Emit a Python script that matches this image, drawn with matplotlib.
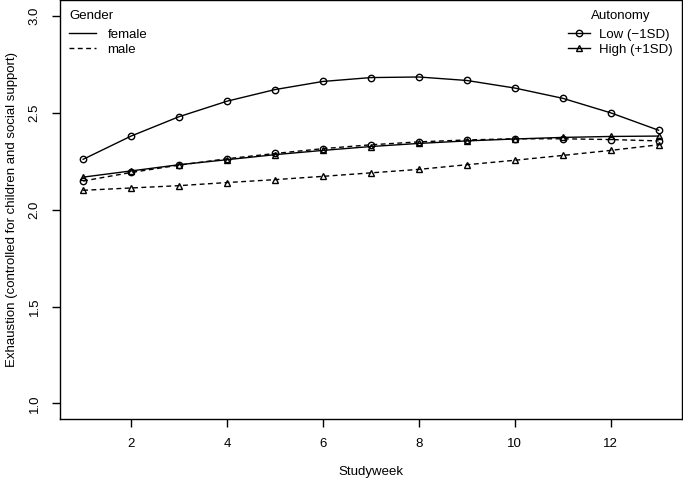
import numpy as np
import matplotlib
matplotlib.use('Agg')
from matplotlib import pyplot as plt
from matplotlib.lines import Line2D

plt.rcParams['font.family'] = ['Liberation Sans', 'DejaVu Sans']

# data
weeks = list(range(1, 14))
female_low = [2.26, 2.38, 2.48, 2.56, 2.62, 2.662, 2.682, 2.685, 2.667, 2.628, 2.575, 2.50, 2.41]
female_high = [2.168, 2.20, 2.232, 2.258, 2.284, 2.306, 2.326, 2.342, 2.355, 2.365, 2.373, 2.378, 2.38]
male_low = [2.148, 2.192, 2.23, 2.263, 2.29, 2.315, 2.335, 2.35, 2.36, 2.366, 2.366, 2.362, 2.355]
male_high = [2.10, 2.112, 2.124, 2.14, 2.155, 2.172, 2.19, 2.208, 2.232, 2.255, 2.28, 2.306, 2.335]

xticks = [2, 4, 6, 8, 10, 12]
yticks = [1.0, 1.5, 2.0, 2.5, 3.0]

fs = 9.5

fig = plt.figure(figsize=(6.83, 4.82), dpi=100)
ax = fig.add_axes([0.088, 0.131, 0.910, 0.868])

dash = (0, (3.5, 2.5))
mk = dict(markersize=5, markerfacecolor='none', markeredgecolor='black', markeredgewidth=1.0)
mk_o = dict(mk, markersize=4.6)

ax.plot(weeks, female_low, color='black', lw=1.0, ls='-', marker='o', **mk_o)
ax.plot(weeks, female_high, color='black', lw=1.0, ls='-', marker='^', **mk)
ax.plot(weeks, male_low, color='black', lw=1.0, ls=dash, marker='o', **mk_o)
ax.plot(weeks, male_high, color='black', lw=1.0, ls=dash, marker='^', **mk)

ax.set_xlim(0.52, 13.48)
ax.set_ylim(0.92, 3.08)
ax.set_xticks(xticks)
ax.set_xticklabels([str(t) for t in xticks])
ax.set_yticks(yticks)
ax.set_yticklabels(['%.1f' % t for t in yticks], rotation=90, va='center')
ax.tick_params(direction='out', length=6, width=1.0, labelsize=fs, pad=8)
for s in ax.spines.values():
    s.set_linewidth(1.0)

ax.set_xlabel('Studyweek', fontsize=fs, labelpad=11)
ax.set_ylabel('Exhaustion (controlled for children and social support)', fontsize=fs, labelpad=8)

# gender legend
g_handles = [Line2D([], [], color='black', lw=1.0, ls='-'),
             Line2D([], [], color='black', lw=1.0, ls=dash)]
leg1 = ax.legend(g_handles, ['female', 'male'], title='Gender', loc='upper left',
                 frameon=False, fontsize=fs, title_fontsize=fs, handlelength=2.0,
                 borderaxespad=0.3, labelspacing=0.2, handletextpad=0.9,
                 alignment='left', bbox_to_anchor=(0.0, 1.0))
leg1._legend_box.sep = 0.2 * fs + 3
ax.add_artist(leg1)

# autonomy legend
a_handles = [Line2D([], [], color='black', lw=1.0, marker='o', **mk_o),
             Line2D([], [], color='black', lw=1.0, marker='^', **mk)]
leg2 = ax.legend(a_handles, ['Low (\u22121SD)', 'High (+1SD)'], title='Autonomy', loc='upper right',
                 frameon=False, fontsize=fs, title_fontsize=fs, handlelength=1.6,
                 borderaxespad=0.3, labelspacing=0.2, handletextpad=0.7,
                 bbox_to_anchor=(1.0, 1.0))
leg2._legend_box.sep = 0.2 * fs + 3

fig.savefig('out.png', dpi=100)
